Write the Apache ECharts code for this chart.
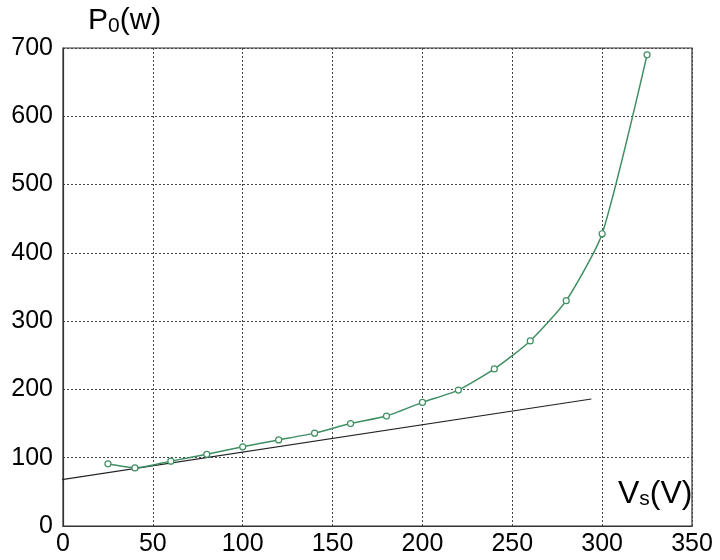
<!DOCTYPE html>
<html><head><meta charset="utf-8">
<script src="https://cdn.jsdelivr.net/npm/echarts@6/dist/echarts.min.js"></script>
<style>html,body{margin:0;padding:0;background:#fff}#c{width:720px;height:560px}</style>
</head><body><div id="c"></div>
<script>
const vs = [25, 40, 60, 80, 100, 120, 140, 160, 180, 200, 220, 240, 260, 280, 300, 325];
const p0 = [91, 85, 95, 105, 116, 126, 136, 150, 161, 181, 199, 230, 271, 330, 428, 690];
const fitX = [-3, 294];
const fitY = [67, 186];
const xTicks = [0, 50, 100, 150, 200, 250, 300, 350];
const yTicks = [0, 100, 200, 300, 400, 500, 600, 700];

const chart = echarts.init(document.getElementById('c'));
const font = 'Liberation Sans, Arial, sans-serif';
chart.setOption({
  animation: false,
  backgroundColor: '#ffffff',
  grid: {left: 63, right: 28, top: 48, bottom: 34, show: true, borderColor: '#333', borderWidth: 1.2},
  xAxis: {
    type: 'value', min: xTicks[0], max: xTicks[xTicks.length-1], interval: 50,
    axisLine: {show: true, lineStyle: {color: '#333', width: 1.2}},
    axisTick: {show: false},
    axisLabel: {fontFamily: font, fontSize: 25, color: '#000', margin: 6},
    splitLine: {show: true, lineStyle: {color: '#444', type: [2, 2], width: 1}}
  },
  yAxis: {
    type: 'value', min: yTicks[0], max: yTicks[yTicks.length-1], interval: 100,
    axisLine: {show: true, lineStyle: {color: '#333', width: 1.2}},
    axisTick: {show: false},
    axisLabel: {fontFamily: font, fontSize: 25, color: '#000', margin: 10},
    splitLine: {show: true, lineStyle: {color: '#444', type: [2, 2], width: 1}}
  },
  graphic: [
    {type: 'text', left: 88, top: 6, style: {
      rich: {a: {fontFamily: font, fontSize: 30, fill: '#000'}, b: {fontFamily: font, fontSize: 21, fill: '#000', padding: [10, 0, 0, 0]}},
      text: '{a|P}{b|0}{a|(w)}'}},
    {type: 'text', left: 618, top: 478, style: {
      rich: {a: {fontFamily: font, fontSize: 32, fill: '#000'}, b: {fontFamily: font, fontSize: 21, fill: '#000', padding: [11, 0, 0, 0]}},
      text: '{a|V}{b|s}{a|(V)}'}}
  ],
  series: [
    {type: 'line', data: fitX.map((x, i) => [x, fitY[i]]), symbol: 'none', clip: false,
     lineStyle: {color: '#222', width: 1.2}},
    {type: 'line', data: vs.map((x, i) => [x, p0[i]]), symbol: 'circle', symbolSize: 6, smooth: 0.2,
     itemStyle: {color: '#ffffff', borderColor: '#3f8f63', borderWidth: 1.2},
     lineStyle: {color: '#3f8f63', width: 1.5}}
  ]
});
</script></body></html>
